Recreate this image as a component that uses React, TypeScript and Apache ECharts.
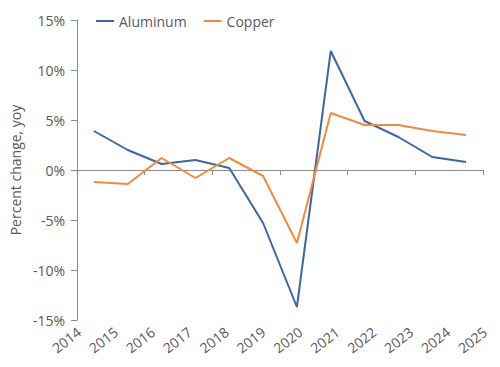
import React, { useEffect, useRef } from "react";
import * as echarts from "echarts";

const years = ["2014", "2015", "2016", "2017", "2018", "2019", "2020", "2021", "2022", "2023", "2024", "2025"];
const aluminum = [3.9, 2.0, 0.6, 1.0, 0.2, -5.3, -13.7, 11.9, 4.9, 3.3, 1.3, 0.8];
const copper = [-1.2, -1.4, 1.2, -0.8, 1.2, -0.6, -7.3, 5.7, 4.5, 4.5, 3.9, 3.5];
const yTicks = { min: -15, max: 15, interval: 5 };

const FONT = "Open Sans";
const TEXT = "#595959";
const AXIS = "#8c8c8c";

export default function App() {
  const ref = useRef<HTMLDivElement>(null);
  useEffect(() => {
    if (!ref.current) return;
    const chart = echarts.init(ref.current, undefined, { renderer: "svg" });
    chart.setOption({
      animation: false,
      textStyle: { fontFamily: FONT, color: TEXT },
      legend: {
        left: 90,
        top: 9,
        itemWidth: 18,
        itemHeight: 2,
        itemGap: 16,
        textStyle: { fontFamily: FONT, fontSize: 14, color: TEXT },
        data: ["Aluminum", "Copper"],
      },
      grid: [
        { left: 74, right: 17, top: 20, bottom: 47 },
        { left: 79, right: 15, top: 20, bottom: 47 },
      ],
      xAxis: [
        {
          type: "category",
          gridIndex: 0,
          data: years,
          boundaryGap: true,
          axisLine: { onZero: true, lineStyle: { color: AXIS, width: 1 } },
          axisTick: { show: true, length: 5, lineStyle: { color: AXIS } },
          axisLabel: { show: false },
          splitLine: { show: false },
        },
        {
          type: "category",
          gridIndex: 1,
          data: years,
          boundaryGap: false,
          position: "bottom",
          axisLine: { show: false },
          axisTick: { show: false },
          axisLabel: {
            rotate: 38,
            margin: 10,
            fontFamily: FONT,
            fontSize: 14,
            color: TEXT,
            interval: 0,
          },
          splitLine: { show: false },
        },
      ],
      yAxis: [
        {
          type: "value",
          gridIndex: 0,
          min: yTicks.min,
          max: yTicks.max,
          interval: yTicks.interval,
          name: "Percent change, yoy",
          nameLocation: "middle",
          nameGap: 50,
          nameTextStyle: { fontFamily: FONT, fontSize: 14, color: TEXT },
          axisLine: { show: true, lineStyle: { color: AXIS, width: 1 } },
          axisTick: { show: true, length: 6, lineStyle: { color: AXIS } },
          axisLabel: {
            formatter: "{value}%",
            margin: 12,
            fontFamily: FONT,
            fontSize: 14,
            color: TEXT,
          },
          splitLine: { show: false },
        },
        {
          type: "value",
          gridIndex: 1,
          min: yTicks.min,
          max: yTicks.max,
          show: false,
          splitLine: { show: false },
        },
      ],
      series: [
        {
          name: "Aluminum",
          type: "line",
          xAxisIndex: 0,
          yAxisIndex: 0,
          data: aluminum,
          symbol: "none",
          lineStyle: { color: "#3a67a8", width: 2 },
          itemStyle: { color: "#3a67a8" },
        },
        {
          name: "Copper",
          type: "line",
          xAxisIndex: 0,
          yAxisIndex: 0,
          data: copper,
          symbol: "none",
          lineStyle: { color: "#f28a3e", width: 2 },
          itemStyle: { color: "#f28a3e" },
        },
      ],
    });
    return () => chart.dispose();
  }, []);
  return <div ref={ref} style={{ width: 500, height: 367, position: "absolute", left: 0, top: 0 }} />;
}
